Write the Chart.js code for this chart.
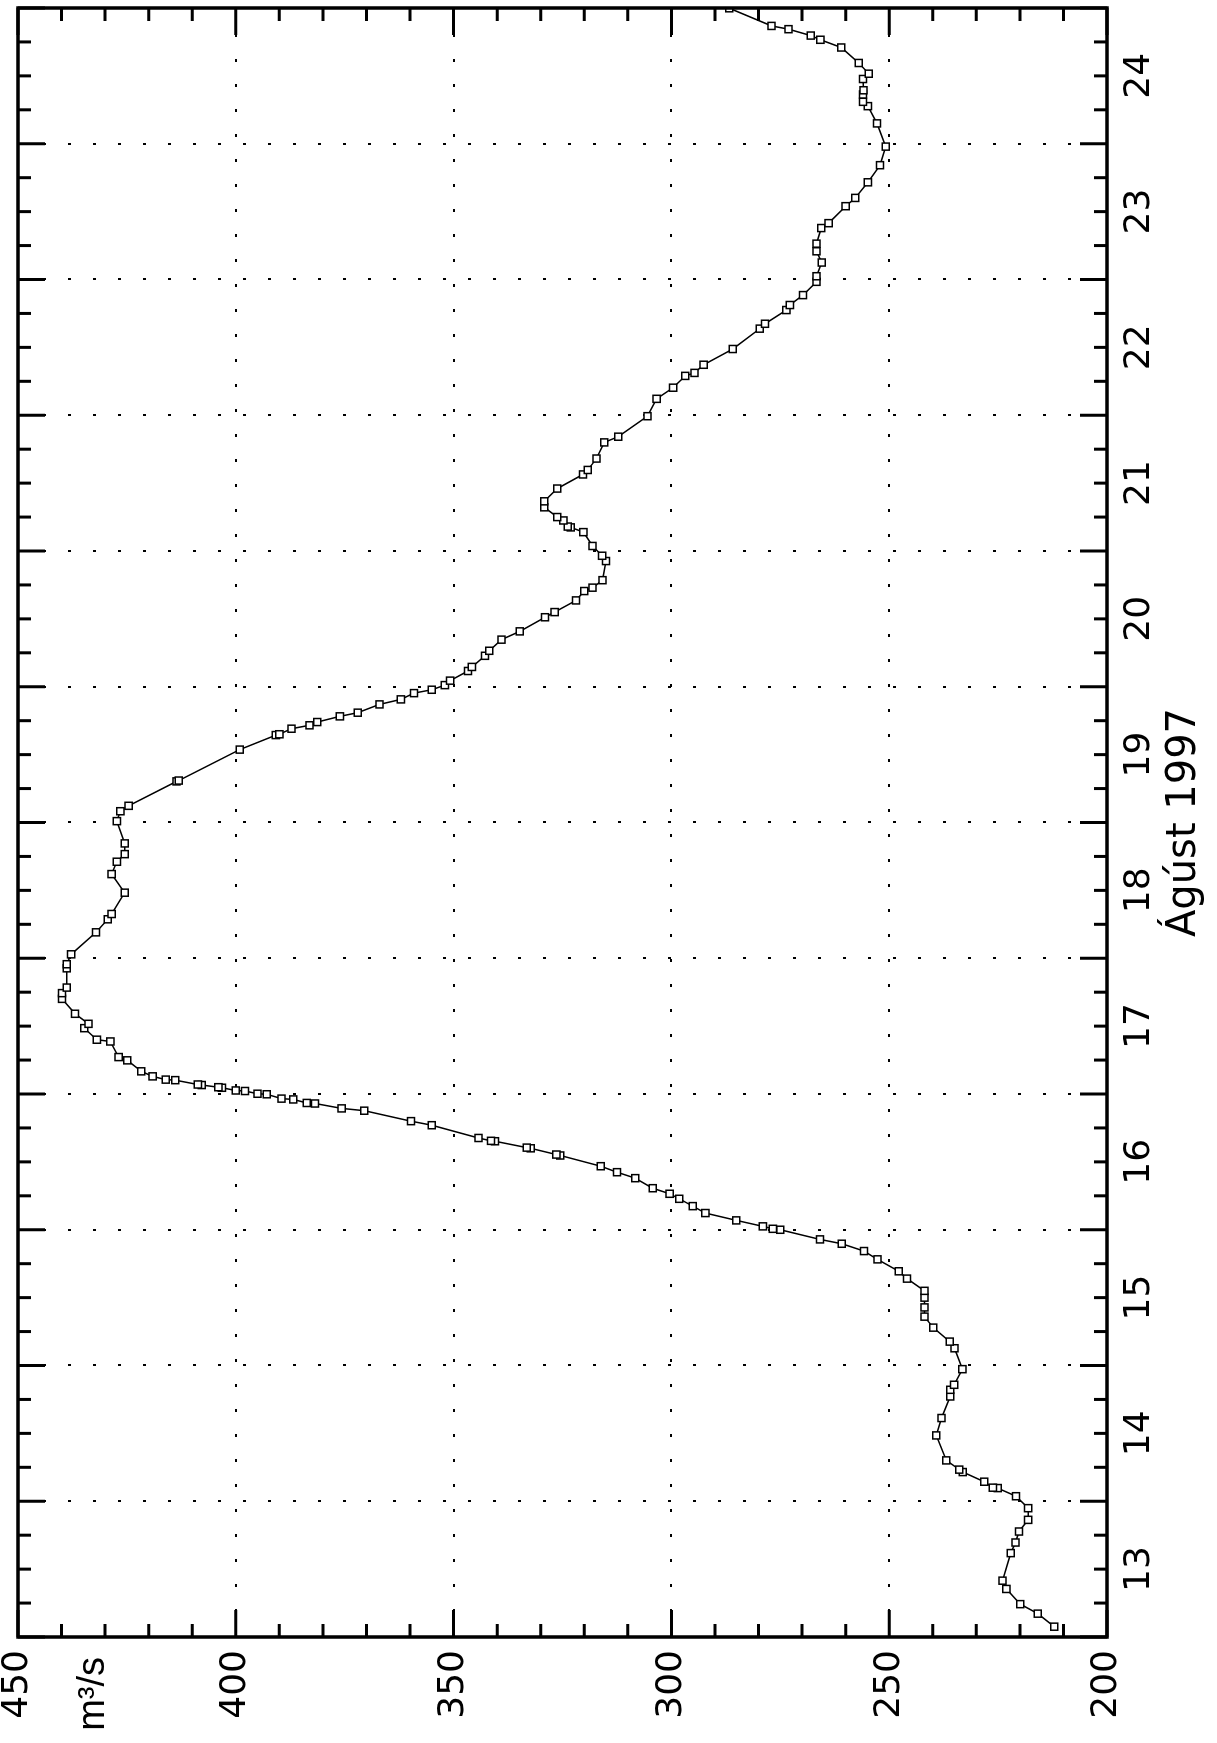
<!DOCTYPE html>
<html>
<head>
<meta charset="utf-8">
<script src="https://cdn.jsdelivr.net/npm/chart.js@4.4.0/dist/chart.umd.min.js"></script>
<style>
  html, body { margin: 0; padding: 0; background: #fff; overflow: hidden; }
  body { width: 1217px; height: 1743px; position: relative; }
  /* the plot is drawn landscape and turned a quarter to the left */
  #wrap { position: absolute; left: 0; top: 0; width: 1743px; height: 1217px;
          transform-origin: 0 0; transform: translateY(1743px) rotate(-90deg); }
</style>
</head>
<body>
<div id="wrap"><canvas id="flow" width="1743" height="1217"></canvas></div>
<script>
// time in days of August 1997
const days = [
  13.076, 13.172, 13.242, 13.354, 13.415, 13.618, 13.696, 13.777, 13.863, 13.949,
  14.037, 14.097, 14.100, 14.144, 14.215, 14.233, 14.301, 14.485, 14.613, 14.772, 14.821, 14.858, 14.973,
  15.127, 15.176, 15.279, 15.360, 15.428, 15.500, 15.550, 15.640, 15.694, 15.782, 15.843, 15.897, 15.929,
  16.000, 16.007, 16.025, 16.069, 16.123, 16.174, 16.228, 16.265, 16.306, 16.380, 16.424, 16.468, 16.547,
  16.554, 16.600, 16.605, 16.652, 16.655, 16.676, 16.770, 16.800, 16.877, 16.894, 16.930, 16.934, 16.960,
  16.966, 16.998,
  17.002, 17.022, 17.026, 17.046, 17.050, 17.066, 17.070, 17.102, 17.106, 17.130, 17.167, 17.248, 17.272,
  17.387, 17.400, 17.485, 17.517, 17.591, 17.701, 17.743, 17.784, 17.926, 17.956,
  18.029, 18.191, 18.287, 18.326, 18.483, 18.620, 18.711, 18.767, 18.846,
  19.010, 19.083, 19.123, 19.303, 19.309, 19.537, 19.644, 19.650, 19.691, 19.716, 19.740, 19.782, 19.809,
  19.870, 19.907, 19.953, 19.978,
  20.012, 20.045, 20.116, 20.146, 20.228, 20.265, 20.347, 20.408, 20.512, 20.550, 20.636, 20.705, 20.730,
  20.785, 20.926, 20.965,
  21.037, 21.139, 21.174, 21.180, 21.225, 21.250, 21.322, 21.366, 21.460, 21.564, 21.597, 21.681, 21.800,
  21.842, 21.993,
  22.121, 22.203, 22.290, 22.312, 22.372, 22.488, 22.638, 22.674, 22.775, 22.812, 22.885, 22.983,
  23.024, 23.125, 23.208, 23.264, 23.379, 23.415, 23.540, 23.601, 23.716, 23.842, 23.979,
  24.150, 24.277, 24.309, 24.363, 24.394, 24.477, 24.516, 24.595, 24.709, 24.766, 24.797, 24.844, 24.868,
  24.998
];
// discharge, m3/s
const flow = [
  212.1, 215.9, 219.9, 223.1, 224.0, 222.1, 221.0, 220.2, 218.1, 218.1,
  220.9, 225.1, 226.2, 228.2, 233.1, 233.9, 236.9, 239.2, 238.0, 236.0, 236.0, 235.1, 233.2,
  235.0, 236.1, 239.9, 241.9, 241.9, 241.9, 241.9, 245.9, 247.8, 252.7, 255.8, 260.9, 265.9,
  275.0, 276.7, 279.0, 285.1, 292.2, 295.1, 298.2, 300.4, 304.3, 308.3, 312.5, 316.2, 325.5,
  326.4, 332.3, 333.2, 340.5, 341.4, 344.3, 355.0, 359.8, 370.5, 375.7, 381.8, 383.7, 386.8,
  389.5, 392.9,
  395.0, 397.9, 400.0, 403.2, 404.0, 407.8, 408.7, 413.9, 416.1, 419.1, 421.7, 424.9, 426.9,
  428.8, 431.9, 434.8, 433.8, 436.9, 439.9, 439.9, 438.8, 438.8, 438.8,
  437.8, 432.1, 429.4, 428.5, 425.5, 428.5, 427.3, 425.5, 425.5,
  427.3, 426.5, 424.6, 413.6, 413.1, 399.1, 390.8, 390.0, 387.2, 383.1, 381.3, 376.1, 372.0,
  367.0, 362.1, 359.1, 355.0,
  352.0, 350.8, 346.7, 345.8, 342.8, 341.8, 339.0, 334.8, 329.0, 326.8, 321.9, 320.0, 318.1,
  315.8, 315.0, 315.9,
  318.1, 320.2, 323.1, 323.8, 324.8, 326.2, 329.2, 329.2, 326.2, 320.3, 319.2, 317.2, 315.4,
  312.2, 305.5,
  303.4, 299.6, 296.8, 294.7, 292.6, 285.9, 279.7, 278.5, 273.6, 272.8, 269.8, 266.7,
  266.7, 265.5, 266.7, 266.7, 265.6, 263.9, 260.0, 257.8, 254.9, 252.1, 250.8,
  252.8, 254.9, 256.0, 256.0, 255.9, 256.0, 254.7, 257.0, 261.0, 265.8, 268.0, 273.1, 277.0,
  286.7
];
const dayLabels = ['13', '14', '15', '16', '17', '18', '19', '20', '21', '22', '23', '24'];
const flowTicks = [200, 250, 300, 350, 400, 450];
const unitLabel = 'm³/s';
const axisTitle = 'Ágúst 1997';

const tickFont = { family: '"DejaVu Sans"', size: 36 };

// day boundaries carry the grid, the labels sit at noon
const dayTicks = [];
dayLabels.forEach(l => { dayTicks.push(Number(l), Number(l) + 0.5); });
dayTicks.push(Number(dayLabels[dayLabels.length - 1]) + 1);

const firstDay = dayTicks[0];
const lastDay = dayTicks[dayTicks.length - 1];

const points = days.map((d, i) => ({ x: d, y: flow[i] }));

// frame with inward ticks on all four sides, plus the unit label
const frameTicks = {
  id: 'frameTicks',
  afterDatasetsDraw(chart) {
    const { ctx, chartArea: a, scales: { x, y } } = chart;
    ctx.save();
    ctx.strokeStyle = '#000';
    ctx.lineWidth = 3;
    ctx.beginPath();
    for (let q = firstDay * 4; q <= lastDay * 4; q++) {
      const px = x.getPixelForValue(q / 4);
      const len = q % 4 === 0 ? 27 : 13;
      ctx.moveTo(px, a.bottom); ctx.lineTo(px, a.bottom - len);
      ctx.moveTo(px, a.top); ctx.lineTo(px, a.top + len);
    }
    for (let v = flowTicks[0]; v <= flowTicks[flowTicks.length - 1]; v += 10) {
      const py = y.getPixelForValue(v);
      const len = v % 50 === 0 ? 27 : 13;
      ctx.moveTo(a.left, py); ctx.lineTo(a.left + len, py);
      ctx.moveTo(a.right, py); ctx.lineTo(a.right - len, py);
    }
    ctx.stroke();
    ctx.lineWidth = 3.5;
    ctx.strokeRect(a.left, a.top, a.right - a.left, a.bottom - a.top);

    ctx.fillStyle = '#000';
    ctx.font = '38px "Liberation Sans"';
    ctx.textAlign = 'right';
    ctx.textBaseline = 'alphabetic';
    ctx.fillText(unitLabel, a.left - 20, y.getPixelForValue(450) + 86);
    ctx.restore();
  }
};

const gridColor = (lo, hi) => ctx =>
  (ctx.tick && Number.isInteger(ctx.tick.value) && ctx.tick.value > lo && ctx.tick.value < hi)
    ? '#000' : 'rgba(0,0,0,0)';

new Chart(document.getElementById('flow').getContext('2d'), {
  type: 'scatter',
  data: {
    datasets: [{
      data: points,
      showLine: true,
      borderColor: '#000',
      borderWidth: 1.5,
      pointStyle: 'rect',
      pointRadius: 5,
      pointBorderWidth: 1.5,
      pointBackgroundColor: '#fff',
      pointBorderColor: '#000'
    }]
  },
  options: {
    responsive: false,
    animation: false,
    devicePixelRatio: 1,
    layout: { padding: { top: 18, right: 8, left: 0, bottom: 0 } },
    plugins: { legend: { display: false }, tooltip: { enabled: false } },
    scales: {
      x: {
        type: 'linear',
        min: firstDay,
        max: lastDay,
        afterBuildTicks: s => { s.ticks = dayTicks.map(v => ({ value: v })); },
        afterFit: s => { s.height = 110; s.paddingLeft = 0; s.paddingRight = 0; },
        grid: { drawTicks: false, lineWidth: 2, color: gridColor(firstDay, lastDay) },
        border: { display: false, dash: [3, 22] },
        ticks: {
          autoSkip: false, maxRotation: 0, minRotation: 0, padding: 11,
          color: '#000', font: tickFont,
          callback: v => Number.isInteger(v) ? '' : dayLabels[Math.floor(v) - firstDay]
        },
        title: {
          display: true, text: axisTitle, color: '#000',
          font: { family: '"DejaVu Sans"', size: 40 },
          padding: { top: 0, bottom: 8 }
        }
      },
      y: {
        min: flowTicks[0],
        max: flowTicks[flowTicks.length - 1],
        afterBuildTicks: s => { s.ticks = flowTicks.map(v => ({ value: v })); },
        afterFit: s => { s.width = 106; s.paddingTop = 0; s.paddingBottom = 0; },
        grid: { drawTicks: false, lineWidth: 2, color: gridColor(flowTicks[0], flowTicks[flowTicks.length - 1]) },
        border: { display: false, dash: [3, 22] },
        ticks: { padding: 13, color: '#000', font: tickFont }
      }
    }
  },
  plugins: [frameTicks]
});
</script>
</body>
</html>
